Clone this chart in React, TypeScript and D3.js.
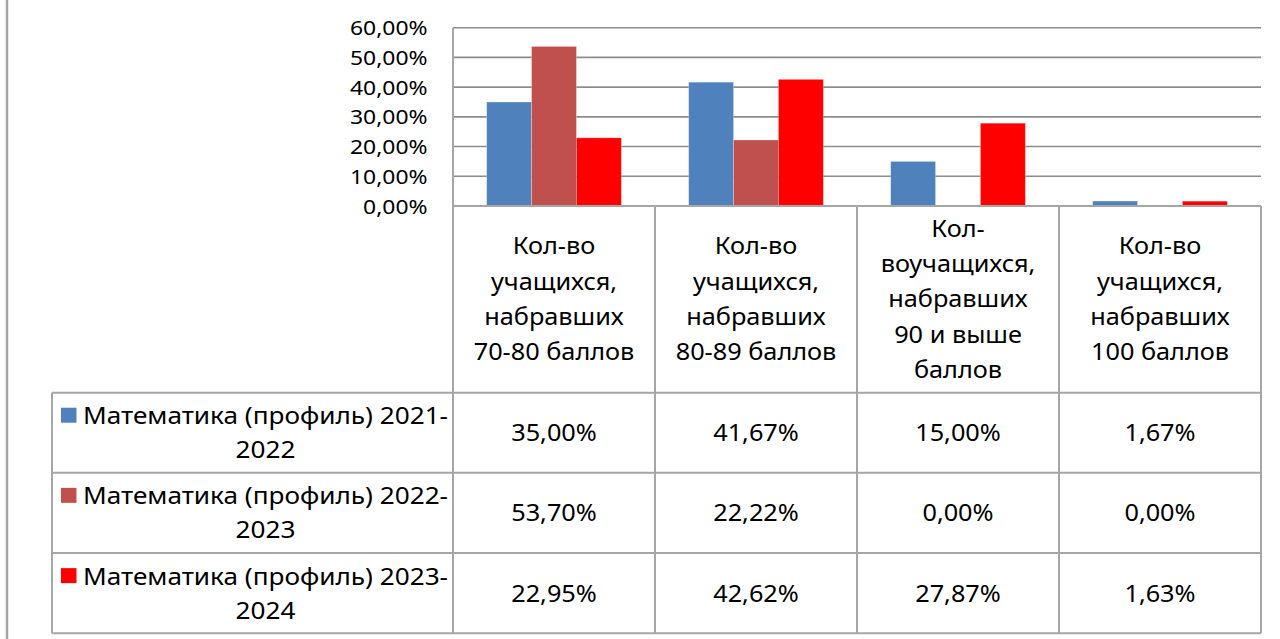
import React, { useLayoutEffect, useRef, useState } from "react";
import * as d3 from "d3";

// data
const categoryLabels = [
  ["Кол-во", "учащихся,", "набравших", "70-80 баллов"],
  ["Кол-во", "учащихся,", "набравших", "80-89 баллов"],
  ["Кол-", "воучащихся,", "набравших", "90 и выше", "баллов"],
  ["Кол-во", "учащихся,", "набравших", "100 баллов"],
];
const seriesLabels = [
  ["Математика (профиль) 2021-", "2022"],
  ["Математика (профиль) 2022-", "2023"],
  ["Математика (профиль) 2023-", "2024"],
];
const values2021 = [0.35, 0.4167, 0.15, 0.0167];
const values2022 = [0.537, 0.2222, 0.0, 0.0];
const values2023 = [0.2295, 0.4262, 0.2787, 0.0163];
const seriesColors = ["#4F81BD", "#C0504D", "#FF0000"];
const yTicks = [0, 0.1, 0.2, 0.3, 0.4, 0.5, 0.6];

const seriesValues = [values2021, values2022, values2023];

const ru = d3.formatLocale({ decimal: ",", thousands: " ", grouping: [3], currency: ["", ""] });
const pct = ru.format(".2%");

const W = 1280;
const H = 639;
const FONT = "'Noto Sans', sans-serif";
const SX = 1.1; // source text looks horizontally stretched

const plot = { left: 453, right: 1261, top: 27.7, bottom: 206 };
const legendLeft = 52;
const rowEdges = [206, 392.7, 472.7, 553, 633.3];

const T = ({ x, y, size, anchor = "middle", children, innerRef }: any) => (
  <text
    ref={innerRef}
    transform={`translate(${x},${y}) scale(${SX},1)`}
    textAnchor={anchor}
    fontFamily={FONT}
    fontSize={size}
    fill="#000"
  >
    {children}
  </text>
);

const App = () => {
  const firstLines = useRef<(SVGTextElement | null)[]>([]);
  const [lineWidths, setLineWidths] = useState<number[]>([0, 0, 0]);

  useLayoutEffect(() => {
    setLineWidths(firstLines.current.map((el) => (el ? el.getComputedTextLength() * SX : 0)));
  }, []);

  const x0 = d3
    .scaleBand<number>()
    .domain(d3.range(categoryLabels.length))
    .range([plot.left, plot.right])
    .padding(0);
  const bw = x0.bandwidth();
  const barW = bw / 4.5; // Excel gap width 150%
  const x1 = d3
    .scaleBand<number>()
    .domain(d3.range(seriesValues.length))
    .range([barW * 0.75, bw - barW * 0.75])
    .padding(0);
  const y = d3.scaleLinear().domain([0, 0.6]).range([plot.bottom, plot.top]);

  const colEdges = [...x0.domain().map((i) => x0(i)!), plot.right];
  const legendCenter = (legendLeft + plot.left) / 2 + 13;

  return (
    <svg
      width={W}
      height={H}
      style={{ position: "absolute", left: 0, top: 0, background: "#fff" }}
    >
      <rect x={0} y={0} width={W} height={H} fill="#fff" />
      <line x1={7} x2={7} y1={0} y2={H} stroke="#A6A6A6" strokeWidth={2.5} />

      {/* gridlines */}
      {yTicks.map((t) => (
        <line
          key={"g" + t}
          x1={plot.left}
          x2={plot.right}
          y1={y(t)}
          y2={y(t)}
          stroke="#8C8C8C"
          strokeWidth={1.6}
        />
      ))}

      {/* y tick labels */}
      {yTicks.map((t) => (
        <T key={"t" + t} x={427.5} y={y(t) + 7.5} size={20.8} anchor="end">
          {pct(t)}
        </T>
      ))}

      {/* bars */}
      {seriesValues.map((vals, s) =>
        vals.map((v, c) => (
          <rect
            key={`b${s}-${c}`}
            x={x0(c)! + x1(s)!}
            y={y(v)}
            width={x1.bandwidth()}
            height={plot.bottom - y(v)}
            fill={seriesColors[s]}
            stroke="#fff"
            strokeOpacity={0.35}
            strokeWidth={0.8}
          />
        ))
      )}

      {/* data table lines */}
      <g stroke="#A6A6A6" strokeWidth={2}>
        <line x1={plot.left} x2={plot.left} y1={plot.top} y2={rowEdges[4]} />
        {colEdges.slice(1).map((cx, i) => (
          <line key={"v" + i} x1={cx} x2={cx} y1={rowEdges[0]} y2={rowEdges[4]} />
        ))}
        <line x1={legendLeft} x2={legendLeft} y1={rowEdges[1]} y2={rowEdges[4]} />
        <line x1={plot.left} x2={plot.right} y1={rowEdges[0]} y2={rowEdges[0]} />
        {rowEdges.slice(1).map((ry, i) => (
          <line key={"h" + i} x1={legendLeft} x2={plot.right} y1={ry} y2={ry} />
        ))}
      </g>

      {/* category headers */}
      {categoryLabels.map((lines, c) => {
        const cx = x0(c)! + bw / 2;
        const cy = (rowEdges[0] + rowEdges[1]) / 2;
        const lh = 35.3;
        return lines.map((ln, i) => (
          <T
            key={`c${c}-${i}`}
            x={cx}
            y={cy + (i - (lines.length - 1) / 2) * lh + 8}
            size={23}
          >
            {ln}
          </T>
        ));
      })}

      {/* legend cells + values */}
      {seriesLabels.map((lines, s) => {
        const cy = (rowEdges[s + 1] + rowEdges[s + 2]) / 2;
        const w = lineWidths[s];
        return (
          <g key={"row" + s}>
            {w > 0 && (
              <rect
                x={legendCenter - w / 2 - 22}
                y={cy - 25}
                width={15.5}
                height={15}
                fill={seriesColors[s]}
              />
            )}
            <T
              x={legendCenter}
              y={cy - 17 + 8.5}
              size={23.8}
              innerRef={(el: SVGTextElement | null) => (firstLines.current[s] = el)}
            >
              {lines[0]}
            </T>
            <T x={legendCenter} y={cy + 17 + 8.5} size={23.8}>
              {lines[1]}
            </T>
            {seriesValues[s].map((v, c) => (
              <T key={`v${s}-${c}`} x={x0(c)! + bw / 2} y={cy + 8.5} size={23}>
                {pct(v)}
              </T>
            ))}
          </g>
        );
      })}
    </svg>
  );
};

export default App;
